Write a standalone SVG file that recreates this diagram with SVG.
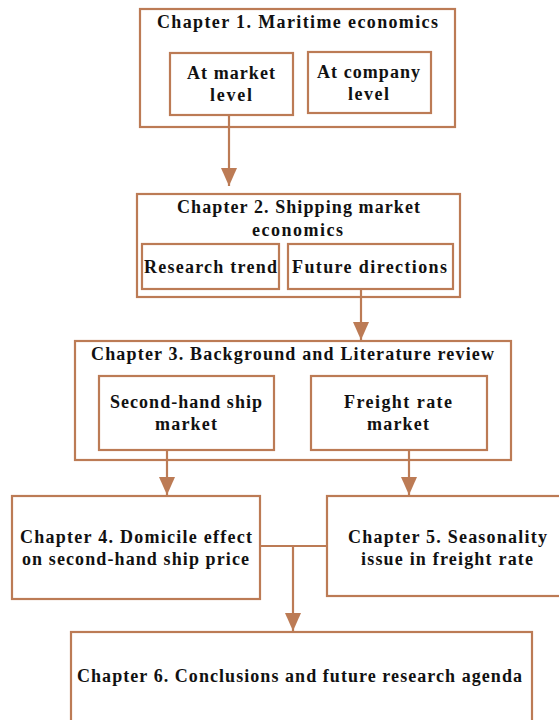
<svg xmlns="http://www.w3.org/2000/svg" width="559" height="720" viewBox="0 0 559 720">
<defs>
<marker id="ah" markerWidth="18" markerHeight="16" refX="18" refY="8" orient="auto" markerUnits="userSpaceOnUse">
<path d="M0,0 L18,8 L0,16 Z" fill="#BC7B55"/>
</marker>
</defs>
<style>
rect{fill:#fff;stroke:#BC7B55;stroke-width:2.2}
text{font-family:"Liberation Serif","Times New Roman",serif;font-weight:bold;font-size:18px;fill:#111;text-anchor:middle}
.c{fill:none;stroke:#BC7B55;stroke-width:2.2}
</style>
<rect x="0" y="0" width="559" height="720" style="fill:#fff;stroke:none"/>
<g id="ch1">
<rect x="140" y="9" width="315" height="118"/>
<text x="297.5" y="28" textLength="281" lengthAdjust="spacing">Chapter 1. Maritime economics</text>
</g>
<g id="market-level">
<rect x="170" y="53" width="123" height="62"/>
<text x="231" y="79" textLength="88" lengthAdjust="spacing">At market</text>
<text x="231" y="101" textLength="42" lengthAdjust="spacing">level</text>
</g>
<g id="company-level">
<rect x="308" y="52" width="123" height="61"/>
<text x="368.5" y="78" textLength="103" lengthAdjust="spacing">At company</text>
<text x="368.5" y="100" textLength="41" lengthAdjust="spacing">level</text>
</g>
<g id="ch2">
<rect x="137" y="194" width="323" height="103"/>
<text x="298.5" y="213" textLength="243" lengthAdjust="spacing">Chapter 2. Shipping market</text>
<text x="297.5" y="236" textLength="91" lengthAdjust="spacing">economics</text>
</g>
<g id="research-trend">
<rect x="142" y="244" width="137" height="45"/>
<text x="210.5" y="273" textLength="133" lengthAdjust="spacing">Research trend</text>
</g>
<g id="future-directions">
<rect x="288" y="244" width="165" height="45"/>
<text x="369.5" y="273" textLength="155" lengthAdjust="spacing">Future directions</text>
</g>
<g id="ch3">
<rect x="75" y="341" width="436" height="119"/>
<text x="292.5" y="360" textLength="403" lengthAdjust="spacing">Chapter 3. Background and Literature review</text>
</g>
<g id="second-hand">
<rect x="99" y="376" width="175" height="74"/>
<text x="186" y="408" textLength="152" lengthAdjust="spacing">Second-hand ship</text>
<text x="186" y="430" textLength="62" lengthAdjust="spacing">market</text>
</g>
<g id="freight-rate">
<rect x="311" y="376" width="176" height="74"/>
<text x="398" y="408" textLength="108" lengthAdjust="spacing">Freight rate</text>
<text x="398" y="430" textLength="62" lengthAdjust="spacing">market</text>
</g>
<g id="ch4">
<rect x="12" y="496" width="248" height="103"/>
<text x="136" y="543" textLength="232" lengthAdjust="spacing">Chapter 4. Domicile effect</text>
<text x="135.5" y="565" textLength="227" lengthAdjust="spacing">on second-hand ship price</text>
</g>
<g id="ch5">
<rect x="327" y="496" width="240" height="100"/>
<text x="447.5" y="543" textLength="199" lengthAdjust="spacing">Chapter 5. Seasonality</text>
<text x="447" y="565" textLength="172" lengthAdjust="spacing">issue in freight rate</text>
</g>
<g id="ch6">
<rect x="71" y="632" width="461" height="100"/>
<text x="299.5" y="682" textLength="445" lengthAdjust="spacing">Chapter 6. Conclusions and future research agenda</text>
</g>
<g id="connectors">
<path class="c" d="M229,115 V186" marker-end="url(#ah)"/>
<path class="c" d="M361,289 V340" marker-end="url(#ah)"/>
<path class="c" d="M167,450 V495" marker-end="url(#ah)"/>
<path class="c" d="M409,450 V495" marker-end="url(#ah)"/>
<path class="c" d="M260,546 H327"/>
<path class="c" d="M293,546 V631" marker-end="url(#ah)"/>
</g>
</svg>
